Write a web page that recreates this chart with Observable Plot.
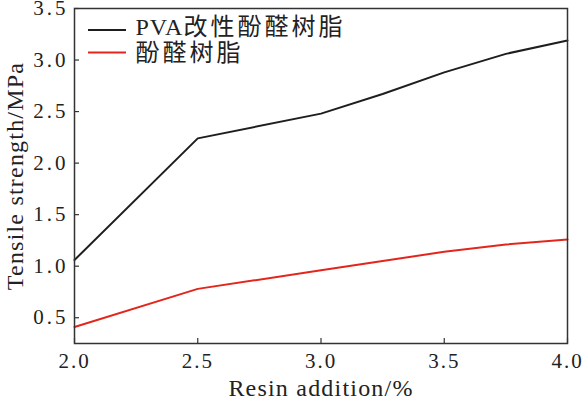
<!DOCTYPE html>
<html><head><meta charset="utf-8">
<script src="https://cdn.jsdelivr.net/npm/d3@7"></script>
<script src="https://cdn.jsdelivr.net/npm/@observablehq/plot@0.6"></script>
<style>
body{margin:0;background:#fff}
svg, svg text{font-family:"Liberation Serif","Times New Roman","DejaVu Serif","Noto Sans CJK SC",serif !important;}
</style></head><body><div id="chart"></div>
<script>
const resin = [2.0, 2.5, 3.0, 3.25, 3.5, 3.75, 4.0];
const pvaModified = [1.06, 2.24, 2.48, 2.67, 2.88, 3.06, 3.19];
const phenolic = [0.41, 0.78, 0.96, 1.05, 1.14, 1.21, 1.26];
const seriesNames = ["PVA改性酚醛树脂", "酚醛树脂"];
const seriesColors = ["#1e1e1e", "#e3261c"];
const xTicks = [2.0, 2.5, 3.0, 3.5, 4.0];
const yTicks = [0.5, 1.0, 1.5, 2.0, 2.5, 3.0, 3.5];
const xLabel = "Resin addition/%";
const yLabel = "Tensile strength/MPa";

const data = [];
resin.forEach((x, i) => {
  data.push({x, y: pvaModified[i], s: seriesNames[0]});
  data.push({x, y: phenolic[i], s: seriesNames[1]});
});

const plot = Plot.plot({
  width: 584, height: 399,
  marginLeft: 74, marginRight: 17, marginTop: 8, marginBottom: 56,
  x: {domain: [2, 4]},
  y: {domain: [0.25, 3.5]},
  color: {domain: seriesNames, range: seriesColors},
  style: {background: "white", color: "#222", fontFamily: "'Liberation Serif', serif"},
  marks: [
    Plot.axisX(xTicks, {tickSize: -5, text: null, stroke: "#333", strokeWidth: 1.2, label: null}),
    Plot.axisX(xTicks, {tickSize: 0, tickPadding: 10, tickFormat: d => d.toFixed(1), fontSize: 21, label: null, fill: "#222"}),
    Plot.axisY(yTicks, {tickSize: -5, text: null, stroke: "#333", strokeWidth: 1.2, label: null}),
    Plot.axisY(yTicks, {tickSize: 0, tickPadding: 6, tickFormat: d => d.toFixed(1), fontSize: 21, label: null, fill: "#222"}),
    Plot.text([xLabel], {frameAnchor: "bottom", dy: 45, lineAnchor: "middle", textAnchor: "middle", text: d => d, fontSize: 24, fill: "#222"}),
    Plot.text([yLabel], {frameAnchor: "left", dx: -59, rotate: -90, lineAnchor: "middle", textAnchor: "middle", text: d => d, fontSize: 24, fill: "#222"}),
    Plot.line(data, {x: "x", y: "y", z: "s", stroke: "s", strokeWidth: 2}),
    Plot.text([seriesNames[0]], {frameAnchor: "top-left", dx: 61, dy: 19, lineAnchor: "middle", text: d => d, fontSize: 24, textAnchor: "start", fill: "#222"}),
    Plot.text([seriesNames[1]], {frameAnchor: "top-left", dx: 61, dy: 45, lineAnchor: "middle", text: d => d, fontSize: 24, textAnchor: "start", fill: "#222"}),
    Plot.frame({stroke: "#333", strokeWidth: 1.5})
  ]
});
document.getElementById("chart").appendChild(plot);

const svg = d3.select(plot);
svg.selectAll("g[aria-label='x-axis tick label'] text").style("letter-spacing", "2px");
svg.selectAll("g[aria-label='y-axis tick label'] text").style("letter-spacing", "3px");
svg.selectAll("text").filter(function(){return seriesNames.includes(this.textContent);}).each(function() {
  const t = this.textContent;
  const m = t.match(/^([A-Za-z]*)(.*)$/);
  const sel = d3.select(this);
  sel.text(null);
  if (m[1]) sel.append("tspan").style("letter-spacing", "1px").text(m[1]);
  sel.append("tspan").style("letter-spacing", "3px").text(m[2]);
});
seriesColors.forEach((c, i) => {
  svg.append("line").attr("x1", 88).attr("x2", 126).attr("y1", i ? 52.5 : 30).attr("y2", i ? 52.5 : 30)
    .attr("stroke", c).attr("stroke-width", 2);
});
svg.selectAll("text").filter(function(){return this.textContent === xLabel || this.textContent === yLabel;}).style("letter-spacing", "1.2px");
</script></body></html>
